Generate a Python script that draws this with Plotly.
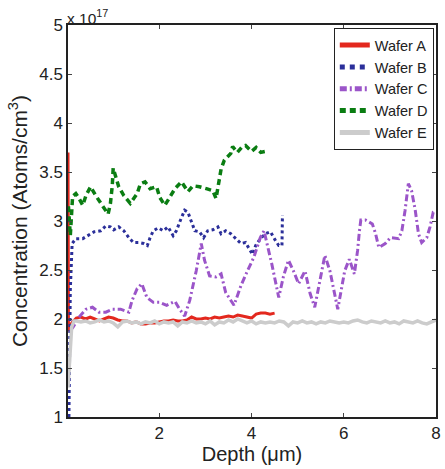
import plotly.graph_objects as go

# Depth (um) and concentration (x 1e17 atoms/cm^3)
a_x = [0.02, 0.025, 0.03, 0.05, 0.1, 0.2, 0.3, 0.4, 0.5, 0.6, 0.7, 0.8, 0.9, 1.0, 1.1, 1.2, 1.3, 1.4,
       1.5, 1.6, 1.7, 1.8, 1.9, 2.0, 2.1, 2.2, 2.3, 2.4, 2.5, 2.6, 2.7, 2.8, 2.9, 3.0, 3.1, 3.2,
       3.3, 3.4, 3.5, 3.6, 3.7, 3.8, 3.9, 4.0, 4.1, 4.2, 4.3, 4.4, 4.5]
a_y = [3.70, 2.60, 1.90, 1.88, 1.96, 2.01, 2.02, 2.00, 2.02, 2.00, 1.98, 2.00, 2.02, 2.01, 1.99, 1.98, 1.98, 1.96,
       1.97, 1.95, 1.95, 1.96, 1.96, 1.97, 1.98, 1.98, 1.99, 1.98, 1.98, 1.99, 2.02, 2.00, 2.00, 2.01, 2.00, 2.02,
       2.01, 2.02, 2.03, 2.02, 2.04, 2.03, 2.02, 2.01, 2.05, 2.06, 2.06, 2.05, 2.06]

b_x = [0.04, 0.05, 0.07, 0.11, 0.19, 0.34, 0.44, 0.59, 0.73, 0.84, 0.94, 1.01, 1.12, 1.23, 1.34, 1.44, 1.55, 1.66,
       1.74, 1.80, 1.87, 1.98, 2.09, 2.19, 2.30, 2.37, 2.46, 2.55, 2.62, 2.69, 2.77, 2.87, 2.96, 3.05,
       3.16, 3.27, 3.34, 3.44, 3.55, 3.66, 3.77, 3.87, 3.94, 4.02, 4.09, 4.19, 4.30, 4.41, 4.52, 4.59, 4.66, 4.67]
b_y = [1.00, 1.60, 2.30, 2.77, 2.82, 2.82, 2.85, 2.89, 2.90, 2.95, 2.94, 2.91, 2.94, 2.90, 2.83, 2.78, 2.78, 2.77,
       2.75, 2.83, 2.90, 2.93, 2.90, 2.94, 2.85, 2.90, 3.01, 3.11, 3.09, 2.99, 2.90, 2.89, 2.83, 2.90,
       2.91, 2.94, 2.87, 2.90, 2.87, 2.82, 2.77, 2.78, 2.72, 2.66, 2.75, 2.82, 2.87, 2.89, 2.80, 2.75, 2.75, 3.06]

c_x = [0.08, 0.12, 0.26, 0.41, 0.55, 0.69, 0.84, 0.98, 1.16, 1.34, 1.41, 1.52, 1.62, 1.73, 1.87, 2.01, 2.16, 2.34,
       2.44, 2.55, 2.66, 2.80, 2.91, 2.98, 3.09, 3.23, 3.34, 3.44, 3.62, 3.77, 3.91, 4.05, 4.19, 4.27,
       4.44, 4.59, 4.69, 4.80, 4.91, 5.02, 5.16, 5.27, 5.37, 5.52, 5.59, 5.70, 5.80, 5.87, 6.02, 6.12,
       6.23, 6.30, 6.34, 6.37, 6.47, 6.62, 6.69, 6.76, 6.90, 7.01, 7.19, 7.26, 7.33, 7.40, 7.47, 7.55,
       7.62, 7.69, 7.80, 7.87, 7.94, 8.00]
c_y = [1.89, 1.91, 2.02, 2.10, 2.12, 2.07, 2.07, 2.10, 2.10, 2.07, 2.19, 2.31, 2.36, 2.22, 2.17, 2.17, 2.14, 2.18,
       2.10, 2.03, 2.19, 2.49, 2.77, 2.60, 2.44, 2.43, 2.46, 2.27, 2.14, 2.34, 2.49, 2.63, 2.83, 2.90,
       2.56, 2.22, 2.43, 2.60, 2.49, 2.36, 2.49, 2.26, 2.12, 2.46, 2.65, 2.49, 2.26, 2.10, 2.49, 2.61,
       2.46, 2.70, 2.90, 3.01, 3.01, 2.97, 2.87, 2.73, 2.77, 2.83, 2.82, 2.90, 3.11, 3.38, 3.31, 3.11,
       2.87, 2.78, 2.83, 2.94, 3.09, 3.10]

d_x = [0.03, 0.05, 0.07, 0.12, 0.19, 0.26, 0.34, 0.41, 0.51, 0.62, 0.80, 0.89, 0.94, 0.98, 1.00, 1.12, 1.23, 1.37,
       1.52, 1.59, 1.69, 1.80, 1.94, 2.01, 2.12, 2.23, 2.34, 2.48, 2.62, 2.73, 2.87, 3.02, 3.16, 3.23,
       3.27, 3.30, 3.34, 3.41, 3.55, 3.59, 3.69, 3.80, 3.87, 4.00, 4.10, 4.20, 4.30]
d_y = [3.15, 2.95, 2.85, 3.25, 3.28, 3.23, 3.16, 3.26, 3.35, 3.26, 3.14, 3.07, 3.18, 3.36, 3.54, 3.35, 3.26, 3.18,
       3.28, 3.38, 3.40, 3.33, 3.35, 3.24, 3.16, 3.24, 3.33, 3.40, 3.30, 3.36, 3.35, 3.33, 3.31, 3.23,
       3.35, 3.43, 3.53, 3.62, 3.69, 3.76, 3.70, 3.76, 3.77, 3.71, 3.75, 3.70, 3.71]

e_x = [0.02, 0.05, 0.1, 0.15, 0.2, 0.3, 0.4, 0.5, 0.6, 0.7, 0.8, 0.9, 1.0, 1.1, 1.2, 1.3, 1.4, 1.5, 1.6, 1.7,
       1.8, 1.9, 2.0, 2.1, 2.2, 2.3, 2.4, 2.5, 2.6, 2.7, 2.8, 2.9, 3.0, 3.1, 3.2, 3.3, 3.4, 3.5, 3.6,
       3.7, 3.8, 3.9, 4.0, 4.1, 4.2, 4.3, 4.4, 4.5, 4.6, 4.7, 4.8, 4.9, 5.0, 5.1, 5.2, 5.3, 5.4, 5.5,
       5.6, 5.7, 5.8, 5.9, 6.0, 6.1, 6.2, 6.3, 6.4, 6.5, 6.6, 6.7, 6.8, 6.9, 7.0, 7.1, 7.2, 7.3, 7.4,
       7.5, 7.6, 7.7, 7.8, 7.9, 8.0]
e_y = [1.30, 1.60, 1.92, 1.98, 1.98, 1.97, 1.98, 1.96, 1.97, 1.99, 1.97, 1.98, 1.96, 1.92, 1.97, 1.98, 1.96, 1.97,
       1.95, 1.97, 1.96, 1.98, 1.95, 1.97, 1.96, 1.97, 1.93, 1.97, 1.96, 1.98, 1.96, 1.97, 1.95, 1.98,
       1.94, 1.97, 1.96, 1.99, 1.97, 2.00, 1.98, 1.96, 1.98, 1.95, 1.97, 1.96, 1.97, 1.96, 1.98, 1.97,
       1.93, 1.97, 1.96, 1.98, 1.96, 1.97, 1.95, 1.97, 1.96, 1.98, 1.97, 1.96, 1.97, 1.96, 1.98, 1.99,
       1.97, 1.96, 1.98, 1.97, 1.96, 1.98, 1.96, 1.97, 1.95, 1.98, 1.97, 1.96, 1.98, 1.96, 1.95, 1.97, 1.99]

y_ticks = [1, 1.5, 2, 2.5, 3, 3.5, 4, 4.5, 5]
y_tick_text = ["1", "1.5", "2", "2.5", "3", "3.5", "4", "4.5", "5"]
x_ticks = [2, 4, 6, 8]

series = [
    ("Wafer A", a_x, a_y, "#e3281e", "solid", 3),
    ("Wafer B", b_x, b_y, "#2b2f9a", "dot", 3),
    ("Wafer C", c_x, c_y, "#9b55c9", "7px,3px,2px,3px", 3),
    ("Wafer D", d_x, d_y, "#0a7d12", "6px,4px", 3.5),
    ("Wafer E", e_x, e_y, "#cccccc", "solid", 3.5),
]

fig = go.Figure()
for name, xs, ys, col, dash, w in series:
    fig.add_trace(go.Scatter(x=xs, y=ys, mode="lines", name=name,
                             line=dict(color=col, dash=dash, width=w)))

font = "Liberation Sans, Arial, sans-serif"
fig.update_layout(
    width=445, height=469,
    margin=dict(l=68, r=4, t=25, b=52),
    paper_bgcolor="white", plot_bgcolor="white",
    font=dict(family=font, size=17, color="#222"),
    showlegend=True,
    legend=dict(x=0.994, y=0.992, xanchor="right", yanchor="top",
                bgcolor="white", bordercolor="#222", borderwidth=1,
                font=dict(size=14.5), tracegroupgap=0, itemwidth=30,
                itemsizing="constant"),
    xaxis=dict(range=[0.02, 8], tickvals=x_ticks, ticks="inside", ticklen=4,
               showline=True, linecolor="#222", linewidth=1.5, mirror="ticks",
               showgrid=False, zeroline=False,
               title=dict(text="Depth (μm)", standoff=0, font=dict(size=20)),
               tickfont=dict(size=17)),
    yaxis=dict(range=[1, 5], tickvals=y_ticks, ticktext=y_tick_text, ticks="inside", ticklen=4,
               showline=True, linecolor="#222", linewidth=1.5, mirror="ticks",
               showgrid=False, zeroline=False,
               title=dict(text="Concentration (Atoms/cm<sup>3</sup>)", standoff=6, font=dict(size=21)),
               tickfont=dict(size=17)),
    annotations=[dict(text="x 10<sup>17</sup>", x=0, y=1, xref="paper", yref="paper",
                      xanchor="left", yanchor="bottom", showarrow=False, font=dict(size=15.5),
                      xshift=-3, yshift=-4)],
)

fig.write_html("out.html")
